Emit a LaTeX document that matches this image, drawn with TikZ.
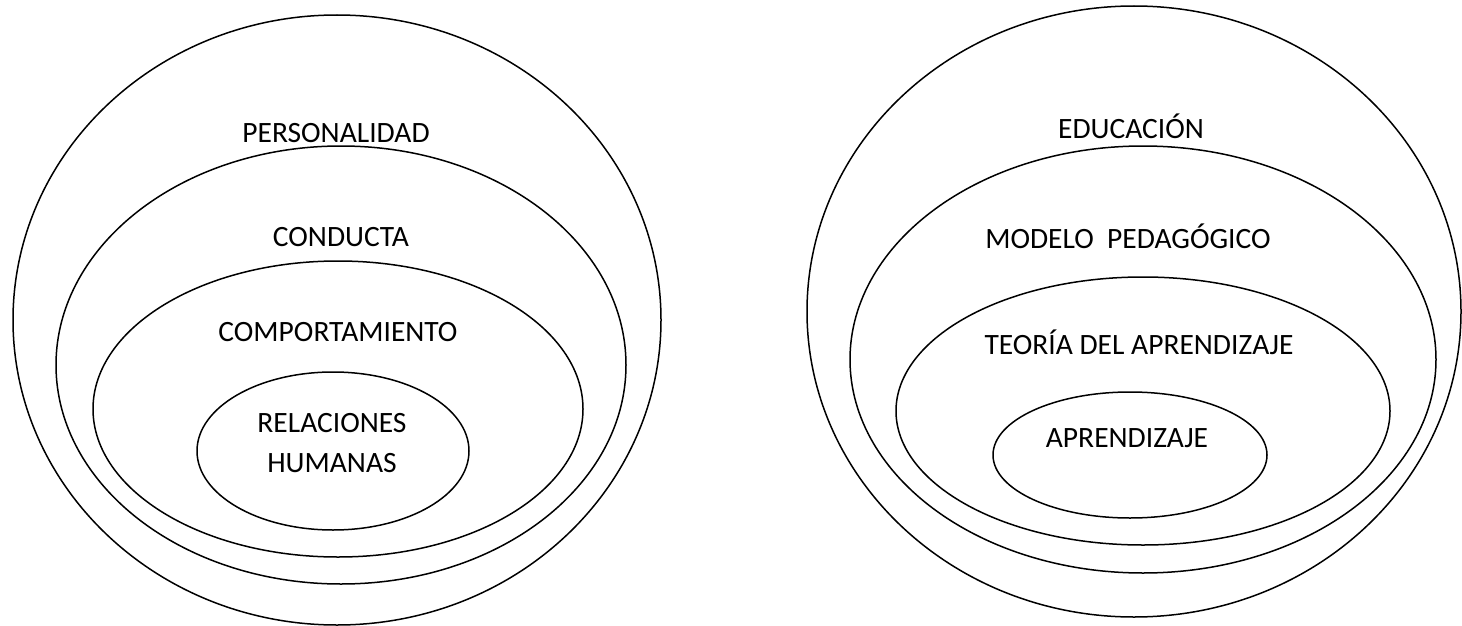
\documentclass[tikz,border=0pt]{standalone}
\usepackage{fontspec}
\setmainfont{Carlito}
\begin{document}
\begin{tikzpicture}[x=1pt,y=-1pt,
  ring/.style={draw=black,line width=1.5pt},
  lbl/.style={font=\fontsize{29.5}{40}\selectfont,align=center,inner sep=0pt}]
\useasboundingbox (0,0) rectangle (1462,626);
% left group
\draw[ring] (337,320) ellipse [x radius=324, y radius=305];
\draw[ring] (341,365) ellipse [x radius=285, y radius=219];
\draw[ring] (338,409) ellipse [x radius=245, y radius=148];
\draw[ring] (333,451) ellipse [x radius=136, y radius=79];
\node[lbl] (pers) at (336,133) {PERSONALIDAD};
\node[lbl] (cond) at (341,237) {CONDUCTA};
\node[lbl] (comp) at (338,332) {COMPORTAMIENTO};
\node[lbl] (rel) at (332,443) {RELACIONES\\HUMANAS};
% right group
\draw[ring] (1134,311.5) ellipse [x radius=327, y radius=305.5];
\draw[ring] (1143,359.5) ellipse [x radius=293, y radius=213.5];
\draw[ring] (1143,411) ellipse [x radius=247, y radius=134];
\draw[ring] (1130,455) ellipse [x radius=137, y radius=63];
\node[lbl] (edu) at (1131,126) {EDUCACIÓN};
\node[lbl] (mod) at (1128,236) {MODELO\ \ PEDAGÓGICO};
\node[lbl] (teo) at (1139,342) {TEORÍA DEL APRENDIZAJE};
\node[lbl] (apr) at (1127,438) {APRENDIZAJE};
\end{tikzpicture}
\end{document}
